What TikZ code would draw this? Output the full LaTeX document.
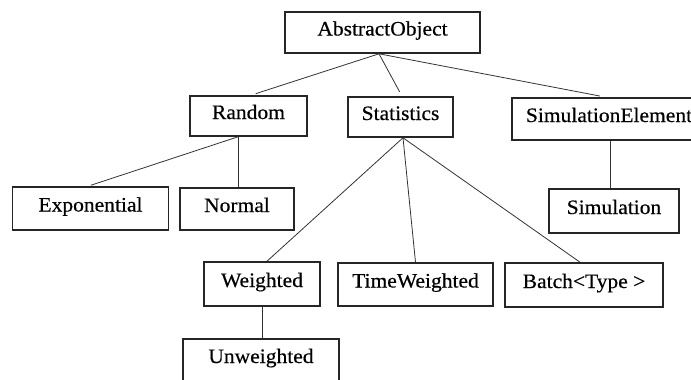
\documentclass[tikz,border=0pt]{standalone}
\usepackage{fontspec}
\setmainfont{Liberation Serif}[FakeStretch=1.05,FakeBold=0.4]
\begin{document}
\begin{tikzpicture}[x=1pt,y=-1pt,
  cls/.style={draw=black!85, line width=1.6pt, inner sep=0pt, fill=white,
    text height=13pt, text depth=7pt,
    font=\fontsize{20.5}{22}\selectfont},
  link/.style={draw=black!80, line width=0.8pt}]
\useasboundingbox (0,0) rectangle (691,380);
\clip (0,0) rectangle (691,380);

% class boxes: centre, width, height
\node[cls, minimum width=195pt, minimum height=41pt] (abs)  at (382.5,32.5) {AbstractObject};
\node[cls, minimum width=117pt, minimum height=40pt] (rnd)  at (248.5,116) {Random};
\node[cls, minimum width=105pt, minimum height=40pt] (stat) at (400.5,117) {Statistics};
\node[cls, minimum width=194pt, minimum height=42pt] (sel)  at (609,119) {SimulationElement};
\node[cls, minimum width=156pt, minimum height=43pt] (exp)  at (90.5,208.5) {Exponential};
\node[cls, minimum width=114pt, minimum height=42pt] (nrm)  at (237,209) {Normal};
\node[cls, minimum width=130pt, minimum height=44pt] (sim)  at (614,211) {Simulation};
\node[cls, minimum width=116pt, minimum height=44pt] (wgt)  at (262,284) {Weighted};
\node[cls, minimum width=155pt, minimum height=43pt] (twt)  at (415.5,284.5) {TimeWeighted};
\node[cls, minimum width=158pt, minimum height=44pt] (bat)  at (584,285) {Batch<Type >};
\node[cls, minimum width=156pt, minimum height=42pt] (unw)  at (261,360) {Unweighted};

% inheritance links
\draw[link, shorten >=5pt] ([xshift=-3.5pt]abs.south) -- ([xshift=2.5pt]rnd.north);
\draw[link, shorten >=5pt] ([xshift=-3.5pt]abs.south) -- ([xshift=1.5pt]stat.north);
\draw[link, shorten >=6pt] ([xshift=-3.5pt]abs.south) -- ([xshift=-3pt]sel.north);
\draw[link, shorten >=3pt] ([xshift=-10.5pt]rnd.south) -- ([xshift=-2.5pt]exp.north);
\draw[link] ([xshift=-10.5pt]rnd.south) -- ([xshift=1pt]nrm.north);
\draw[link] ([xshift=2.5pt]stat.south) -- ([xshift=5pt]wgt.north);
\draw[link] ([xshift=2.5pt]stat.south) -- (twt.north);
\draw[link] ([xshift=2.5pt]stat.south) -- ([xshift=-4pt]bat.north);
\draw[link] ([xshift=1pt]sel.south) -- ([xshift=-4pt]sim.north);
\draw[link] (wgt.south) -- (unw.north -| wgt.south);
\end{tikzpicture}
\end{document}
